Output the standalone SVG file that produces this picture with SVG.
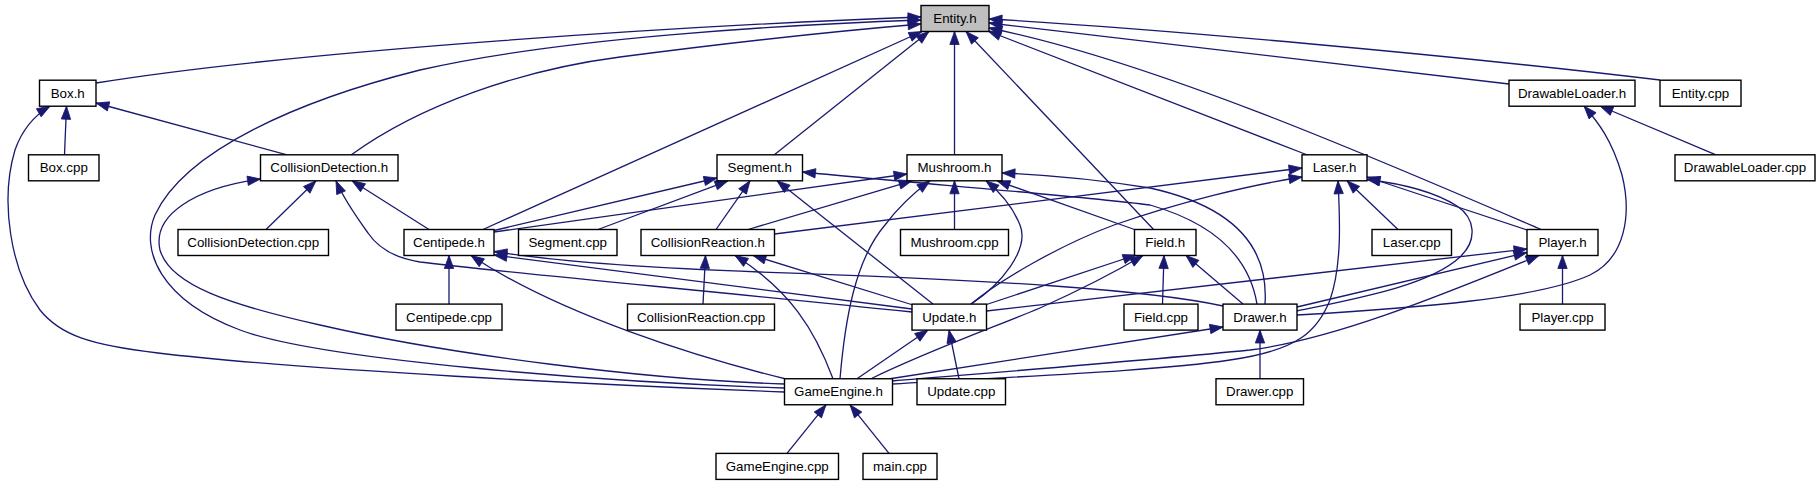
<svg xmlns="http://www.w3.org/2000/svg" width="1817" height="485" viewBox="0 0 1817 485">
<style>
.n rect{fill:#fff;stroke:#000;stroke-width:1.4}
.n text{font-family:"Liberation Sans",Arial,sans-serif;font-size:13.33px;text-anchor:middle;fill:#000}
#edges path{fill:none;stroke:#191970;stroke-width:1.3;marker-end:url(#ah)}
</style>
<defs>
<marker id="ah" markerUnits="userSpaceOnUse" markerWidth="14" markerHeight="10" refX="13" refY="5" orient="auto" overflow="visible">
<path d="M0,0.3 L13,5 L0,9.7 z" fill="#191970" stroke="#191970" stroke-width="0.8"/>
</marker>
</defs>
<rect width="1817" height="485" fill="#fff"/>
<g id="edges">
<path d="M96,83 C300,50 700,25 921,17"/>
<path d="M351,155 C420,105 520,70 620,57 C750,40 850,30 921,24"/>
<path d="M784.5,388 C600,382 320,360 240,330 C160,300 140,250 155,215 C185,150 300,100 420,70 C560,38 780,25 921,20"/>
<path d="M483,229.5 L922,31.5"/>
<path d="M774,155 L929,31.5"/>
<path d="M954.5,155 L954.5,31.5"/>
<path d="M1153.6,229.5 L966,31.5"/>
<path d="M1307.5,155 L988,31"/>
<path d="M1541,229.5 C1380,160 1150,60 989,28"/>
<path d="M1509,84 L989,23"/>
<path d="M1660,80 C1450,55 1150,28 989,19"/>
<path d="M64.5,154.8 L66.5,106.2"/>
<path d="M287,154.8 L96,103"/>
<path d="M784.5,392 C600,385 300,370 158,353 C90,345 60,335 40,310 C10,270 0,200 15,150 C22,130 35,115 50,106.2"/>
<path d="M266,229.5 L316,180.8"/>
<path d="M429,229.5 L352,180.8"/>
<path d="M784.5,384 C650,380 450,355 320,325 C230,305 170,285 160,250 C152,215 195,188 260.5,179"/>
<path d="M912,312 C700,290 500,272 420,262 C395,258 378,248 368,233 C355,215 342,195 336,180.8"/>
<path d="M449,304.1 L449,255.5"/>
<path d="M786,379 C700,358 560,315 471,255.5"/>
<path d="M912,309 L494,255"/>
<path d="M1223,306 C1150,290 1000,280 760,272 C650,268 560,262 494,251.5"/>
<path d="M494,230.5 L717,178"/>
<path d="M598,229.5 L728,180.8"/>
<path d="M716,229.5 L750,180.8"/>
<path d="M933,304.1 L777,180.8"/>
<path d="M1257,304.1 C1250,262 1220,225 1150,205 C1070,195 900,182 802.5,172"/>
<path d="M494,232 L907,174"/>
<path d="M748,229.5 L912,180.8"/>
<path d="M954.5,229.5 L954.5,180.8"/>
<path d="M971,304.1 C1000,285 1030,250 1020,225 C1012,205 1000,192 986,180.8"/>
<path d="M1134.5,229.5 L997,180.8"/>
<path d="M840,378.75 C845,320 855,260 885,225 C900,205 915,192 930,180.8"/>
<path d="M1265,304.1 C1268,260 1250,210 1150,188 C1100,180 1050,175 1002,173"/>
<path d="M703,304.1 L705.5,255.5"/>
<path d="M913,305 L753,255.5"/>
<path d="M833,378.75 C815,330 790,290 735,255.5"/>
<path d="M774.5,234 L1302,168"/>
<path d="M971,304.1 C1000,280 1060,245 1114,225 C1180,202 1250,185 1302,177"/>
<path d="M1398,229.5 L1347,180.8"/>
<path d="M1527,230 L1367,177"/>
<path d="M1297,311 C1360,298 1430,285 1460,257 C1478,240 1475,218 1457,206 C1435,192 1405,184 1367,179.5"/>
<path d="M892.5,384 C1000,377 1150,372 1230,360 C1300,350 1318,330 1330,300 C1342,265 1340,220 1338,180.8"/>
<path d="M1162.5,304.1 L1164,255.5"/>
<path d="M985,305 L1136,255"/>
<path d="M1243,304.1 L1186,255.5"/>
<path d="M871,378.75 C930,350 1000,325 1040,308 C1080,290 1115,272 1143,255.5"/>
<path d="M1562.5,304.1 L1562.5,255.5"/>
<path d="M986.5,311 L1527,249"/>
<path d="M1297,307 L1527,252.5"/>
<path d="M892.5,381 C1000,372 1150,360 1250,350 C1330,340 1430,300 1539,255.5"/>
<path d="M1716,154.8 L1600,106"/>
<path d="M1297,315 C1420,308 1540,298 1590,275 C1625,258 1632,215 1622,175 C1612,140 1598,122 1584,106"/>
<path d="M857,378.75 L928,330"/>
<path d="M959,378.75 L949,330"/>
<path d="M1260,378.75 L1260,330"/>
<path d="M890,378.75 L1223,327"/>
<path d="M787,453.4 L826,404.8"/>
<path d="M889,453.4 L850,404.8"/>
</g>
<g id="entity_h" class="n"><rect x="921" y="5.5" width="68" height="26" style="fill:#bfbfbf"/><text x="955" y="23">Entity.h</text></g>
<g id="box_h" class="n"><rect x="39.5" y="80.2" width="56.5" height="26"/><text x="67.75" y="97.7">Box.h</text></g>
<g id="drawableloader_h" class="n"><rect x="1509" y="80.2" width="126" height="26"/><text x="1572" y="97.7">DrawableLoader.h</text></g>
<g id="entity_cpp" class="n"><rect x="1660" y="80.2" width="81" height="26"/><text x="1700.5" y="97.7">Entity.cpp</text></g>
<g id="box_cpp" class="n"><rect x="28.5" y="154.8" width="70.5" height="26"/><text x="63.75" y="172.3">Box.cpp</text></g>
<g id="collisiondetection_h" class="n"><rect x="260.5" y="154.8" width="137.5" height="26"/><text x="329.25" y="172.3">CollisionDetection.h</text></g>
<g id="segment_h" class="n"><rect x="717" y="154.8" width="85.5" height="26"/><text x="759.75" y="172.3">Segment.h</text></g>
<g id="mushroom_h" class="n"><rect x="907" y="154.8" width="95" height="26"/><text x="954.5" y="172.3">Mushroom.h</text></g>
<g id="laser_h" class="n"><rect x="1302" y="154.8" width="65" height="26"/><text x="1334.5" y="172.3">Laser.h</text></g>
<g id="drawableloader_cpp" class="n"><rect x="1675" y="154.8" width="140" height="26"/><text x="1745" y="172.3">DrawableLoader.cpp</text></g>
<g id="collisiondetection_cpp" class="n"><rect x="178" y="229.5" width="150.5" height="26"/><text x="253.25" y="247">CollisionDetection.cpp</text></g>
<g id="centipede_h" class="n"><rect x="404" y="229.5" width="90" height="26"/><text x="449" y="247">Centipede.h</text></g>
<g id="segment_cpp" class="n"><rect x="518.5" y="229.5" width="98.5" height="26"/><text x="567.75" y="247">Segment.cpp</text></g>
<g id="collisionreaction_h" class="n"><rect x="641" y="229.5" width="133.5" height="26"/><text x="707.75" y="247">CollisionReaction.h</text></g>
<g id="mushroom_cpp" class="n"><rect x="900.5" y="229.5" width="108" height="26"/><text x="954.5" y="247">Mushroom.cpp</text></g>
<g id="field_h" class="n"><rect x="1134.5" y="229.5" width="61.5" height="26"/><text x="1165.25" y="247">Field.h</text></g>
<g id="laser_cpp" class="n"><rect x="1372" y="229.5" width="79.5" height="26"/><text x="1411.75" y="247">Laser.cpp</text></g>
<g id="player_h" class="n"><rect x="1527" y="229.5" width="71" height="26"/><text x="1562.5" y="247">Player.h</text></g>
<g id="centipede_cpp" class="n"><rect x="396" y="304.1" width="106" height="26"/><text x="449" y="321.6">Centipede.cpp</text></g>
<g id="collisionreaction_cpp" class="n"><rect x="627.5" y="304.1" width="147" height="26"/><text x="701" y="321.6">CollisionReaction.cpp</text></g>
<g id="update_h" class="n"><rect x="912" y="304.1" width="74.5" height="26"/><text x="949.25" y="321.6">Update.h</text></g>
<g id="field_cpp" class="n"><rect x="1124" y="304.1" width="74" height="26"/><text x="1161" y="321.6">Field.cpp</text></g>
<g id="drawer_h" class="n"><rect x="1223" y="304.1" width="74" height="26"/><text x="1260" y="321.6">Drawer.h</text></g>
<g id="player_cpp" class="n"><rect x="1520" y="304.1" width="85" height="26"/><text x="1562.5" y="321.6">Player.cpp</text></g>
<g id="gameengine_h" class="n"><rect x="784.5" y="378.75" width="108" height="26"/><text x="838.5" y="396.25">GameEngine.h</text></g>
<g id="update_cpp" class="n"><rect x="917" y="378.75" width="88.5" height="26"/><text x="961.25" y="396.25">Update.cpp</text></g>
<g id="drawer_cpp" class="n"><rect x="1216" y="378.75" width="87.5" height="26"/><text x="1259.75" y="396.25">Drawer.cpp</text></g>
<g id="gameengine_cpp" class="n"><rect x="716" y="453.4" width="122.5" height="26"/><text x="777.25" y="470.9">GameEngine.cpp</text></g>
<g id="main_cpp" class="n"><rect x="863" y="453.4" width="74" height="26"/><text x="900" y="470.9">main.cpp</text></g>
</svg>
